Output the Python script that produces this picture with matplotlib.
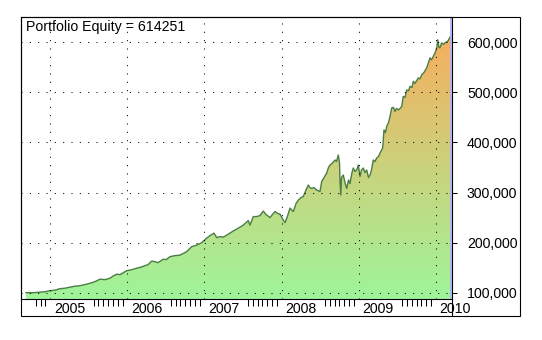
import numpy as np
import matplotlib
matplotlib.use('Agg')
import matplotlib.pyplot as plt
from matplotlib.colors import LinearSegmentedColormap
from matplotlib.patches import Rectangle
from matplotlib.lines import Line2D
import matplotlib.transforms as mtransforms

plt.rcParams['font.family'] = ['Liberation Sans', 'DejaVu Sans']

# ---- data (decimal year, equity) ----
dates = [
    2004.685, 2004.776, 2004.866, 2004.931, 2004.996, 2005.061, 2005.126, 2005.191,
    2005.256, 2005.320, 2005.385, 2005.472, 2005.541, 2005.593, 2005.645, 2005.709,
    2005.774, 2005.813, 2005.861, 2005.904, 2005.991, 2006.060, 2006.121, 2006.176,
    2006.228, 2006.267, 2006.315, 2006.358, 2006.397, 2006.466, 2006.501, 2006.553,
    2006.617, 2006.682, 2006.769, 2006.834, 2006.899, 2006.964, 2007.029, 2007.071,
    2007.123, 2007.158, 2007.201, 2007.244, 2007.279, 2007.331, 2007.370, 2007.418,
    2007.460, 2007.503, 2007.538, 2007.568, 2007.590, 2007.633, 2007.677, 2007.720,
    2007.763, 2007.798, 2007.850, 2007.875, 2007.914, 2007.953, 2007.979, 2008.022,
    2008.044, 2008.070, 2008.109, 2008.152, 2008.187, 2008.217, 2008.252, 2008.281,
    2008.316, 2008.346, 2008.368, 2008.390, 2008.420, 2008.455, 2008.498, 2008.520,
    2008.550, 2008.585, 2008.608, 2008.628, 2008.654, 2008.693, 2008.712, 2008.735,
    2008.751, 2008.757, 2008.767, 2008.777, 2008.800, 2008.822, 2008.844, 2008.868,
    2008.887, 2008.913, 2008.930, 2008.952, 2008.974, 2008.995, 2009.017, 2009.036,
    2009.060, 2009.082, 2009.104, 2009.127, 2009.147, 2009.166, 2009.189, 2009.211,
    2009.233, 2009.257, 2009.276, 2009.311, 2009.328, 2009.348, 2009.363, 2009.387,
    2009.406, 2009.428, 2009.451, 2009.471, 2009.490, 2009.514, 2009.536, 2009.558,
    2009.578, 2009.601, 2009.623, 2009.646, 2009.665, 2009.691, 2009.708, 2009.730,
    2009.773, 2009.795, 2009.817, 2009.847, 2009.882, 2009.905, 2009.925, 2009.944,
    2009.968, 2009.990, 2010.012, 2010.025, 2010.041, 2010.054, 2010.076, 2010.100,
    2010.119, 2010.154, 2010.184, 2010.204,
]
equity = [
    100000, 100000, 101000, 102000, 104000, 105000, 108000, 109000,
    111000, 113000, 114000, 117000, 120000, 123000, 127000, 126000,
    129000, 133000, 137000, 136000, 144000, 146000, 149000, 151000,
    154000, 156000, 163000, 162000, 160000, 167000, 166000, 172000,
    174000, 175000, 182000, 192000, 195000, 200000, 209000, 214000,
    219000, 210000, 212000, 211000, 214000, 219000, 223000, 227000,
    231000, 235000, 240000, 244000, 235000, 252000, 252000, 254000,
    263000, 256000, 250000, 255000, 262000, 258000, 257000, 245000,
    240000, 250000, 269000, 262000, 278000, 285000, 290000, 292000,
    305000, 315000, 310000, 308000, 310000, 305000, 302000, 322000,
    330000, 339000, 350000, 355000, 358000, 365000, 362000, 375000,
    360000, 325000, 295000, 330000, 335000, 320000, 308000, 325000,
    318000, 340000, 349000, 342000, 345000, 355000, 332000, 345000,
    349000, 340000, 345000, 330000, 335000, 345000, 365000, 362000,
    369000, 372000, 379000, 389000, 425000, 420000, 432000, 440000,
    452000, 469000, 470000, 462000, 468000, 465000, 468000, 472000,
    492000, 490000, 505000, 503000, 512000, 510000, 522000, 518000,
    529000, 527000, 535000, 540000, 549000, 560000, 569000, 565000,
    572000, 579000, 589000, 605000, 590000, 589000, 599000, 596000,
    599000, 602000, 610000, 614251,
]
final_equity = 614251
year_ticks = [2005, 2006, 2007, 2008, 2009, 2010]
year_labels = ['2005', '2006', '2007', '2008', '2009', '2010']
y_ticks = [100000, 200000, 300000, 400000, 500000, 600000]

W, H = 542, 340
fig = plt.figure(figsize=(W / 100, H / 100), dpi=100)
fig.patch.set_facecolor('white')

ax_l, ax_r, ax_t, ax_b = 21.3, 452.0, 16.7, 299.3
ax = fig.add_axes([ax_l / W, 1 - ax_b / H, (ax_r - ax_l) / W, (ax_b - ax_t) / H])
xmin, xmax = 2004.624, 2010.210
ymin, ymax = 86800, 651200

# gradient filled area
cmap = LinearSegmentedColormap.from_list('eq', ['#9ff59a', '#f7ae5e'])
poly = ax.fill_between(dates, equity, ymin, facecolor='none', edgecolor='none')
grad = np.linspace(0, 1, 256).reshape(-1, 1)
im = ax.imshow(grad, aspect='auto', cmap=cmap, origin='lower',
               extent=[dates[0], dates[-1], ymin, max(equity)], zorder=1,
               interpolation='bilinear')
im.set_clip_path(poly.get_paths()[0], ax.transData)

ax.plot(dates, equity, color='#4b7d46', lw=1.0, zorder=3)

# dotted grid
for yv in y_ticks:
    ax.axhline(yv, color='black', lw=0.75, ls=(0, (1, 7)), zorder=4)
for xv in year_ticks:
    ax.axvline(xv, color='black', lw=0.75, ls=(0, (1, 7)), zorder=4)

# selected-bar marker
ax.axvline(dates[-1] - 0.006, color='#b0b0f6', lw=2.0, zorder=5)

ax.set_xlim(xmin, xmax)
ax.set_ylim(ymin, ymax)

for s in ax.spines.values():
    s.set_linewidth(0.8)
    s.set_color('black')

# y axis on the right
ax.yaxis.tick_right()
ax.set_yticks(y_ticks, [f'{v:,}' for v in y_ticks])
ax.tick_params(axis='y', direction='out', length=3.8, width=0.75, pad=7,
               labelsize=10.2, colors='black')

# x axis: year labels left-aligned after the year line, minor ticks
ax.set_xticks([])
minor = []
for y0 in range(2004, 2010):
    for k in range(16):
        frac = k / 16.0
        t = y0 + frac
        if t < dates[0] + 0.1 or frac < 0.52:
            continue
        minor.append(t)
ax.set_xticks(minor, minor=True)
ax.tick_params(axis='x', which='minor', direction='out', length=4.8, width=0.75,
               bottom=True, labelbottom=False)

trans = mtransforms.blended_transform_factory(ax.transData, ax.transAxes)
off = mtransforms.ScaledTranslation(3.5 / 100, -14.0 / 100, fig.dpi_scale_trans)
for xv, lab in zip(year_ticks, year_labels):
    ax.text(xv, 0, lab, transform=trans + off, ha='left', va='baseline',
            fontsize=10.2, color='black', clip_on=False)

# title inside the chart
fig.text(25.6 / W, 1 - 30.7 / H, f'Portfolio Equity = {final_equity}',
         ha='left', va='baseline', fontsize=10.2, color='black')

# outer frame
fig.add_artist(Rectangle((ax_l / W, 1 - 316 / H), (520 - ax_l) / W, (316 - ax_t) / H,
                         transform=fig.transFigure, fill=False, lw=0.8,
                         edgecolor='black'))
fig.add_artist(Line2D([ax_r / W, ax_r / W], [1 - 316 / H, 1 - ax_b / H],
                      transform=fig.transFigure, lw=0.8, color='black'))

fig.savefig('out.png', dpi=100)
